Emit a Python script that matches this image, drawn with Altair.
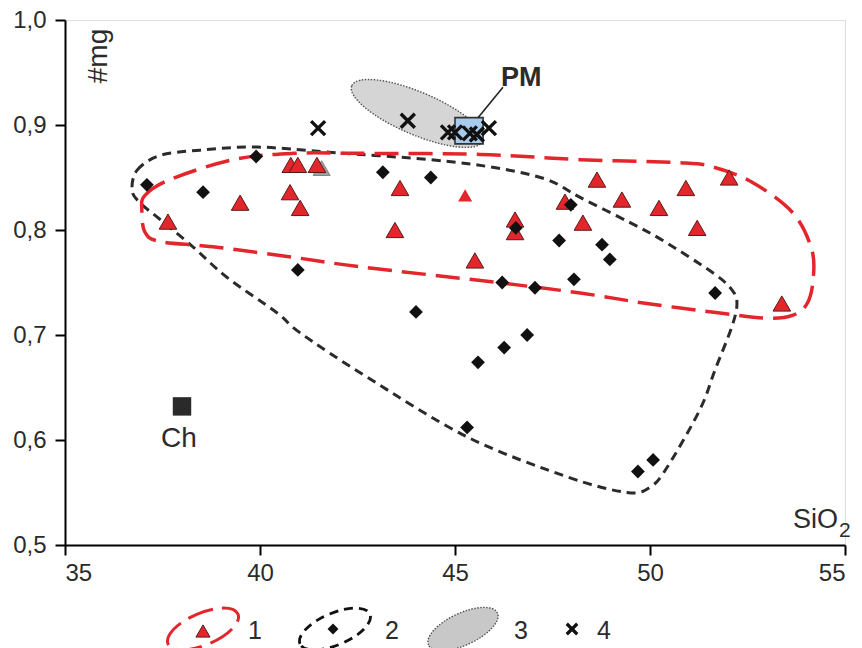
import altair as alt
import pandas as pd

# ---- data -------------------------------------------------------------
# Group 1: triangles (SiO2, #mg)
g1_sio2 = [37.64, 39.49, 40.79, 40.97, 41.46, 40.77, 41.03, 43.59, 43.46, 46.54,
           46.54, 45.51, 48.64, 47.82, 48.28, 49.28, 50.23, 50.92, 52.03, 51.21, 53.38]
g1_mg = [0.808, 0.826, 0.862, 0.862, 0.862, 0.836, 0.821, 0.840, 0.800, 0.810,
         0.798, 0.771, 0.848, 0.827, 0.807, 0.829, 0.821, 0.840, 0.850, 0.802, 0.730]
# group 1 samples plotted without outline / in grey
g1_plain_sio2 = [45.26]
g1_plain_mg = [0.833]
g1_grey_sio2 = [41.58]
g1_grey_mg = [0.859]

# Group 2: diamonds
g2_sio2 = [37.10, 38.54, 39.90, 40.97, 43.15, 44.38, 46.56, 47.97, 47.67, 48.77, 48.97,
           48.05, 46.21, 47.05, 44.00, 46.85, 46.26, 45.59, 45.31, 49.69, 50.08, 51.67]
g2_mg = [0.843, 0.836, 0.870, 0.762, 0.855, 0.850, 0.802, 0.824, 0.790, 0.786, 0.772,
         0.753, 0.750, 0.745, 0.722, 0.700, 0.688, 0.674, 0.612, 0.570, 0.581, 0.740]

# Group 4: crosses
g4_sio2 = [41.49, 43.79, 44.82, 45.00, 45.38, 45.56, 45.87]
g4_mg = [0.897, 0.904, 0.893, 0.893, 0.892, 0.891, 0.897]

# Field of group 1 (closed outline)
f1_sio2 = [36.97, 37.05, 37.69, 39.31, 40.85, 42.56, 45.64, 48.21, 50.77, 51.62, 52.64,
           53.67, 54.15, 54.18, 54.03, 53.67, 53.00, 51.79, 49.92, 48.21, 46.08, 42.56,
           40.85, 38.79, 37.44, 37.05]
f1_mg = [0.819, 0.833, 0.848, 0.867, 0.873, 0.873, 0.872, 0.867, 0.864, 0.860, 0.845,
         0.816, 0.781, 0.752, 0.730, 0.719, 0.716, 0.721, 0.730, 0.740, 0.750, 0.765,
         0.774, 0.784, 0.789, 0.798]

# Field of group 2 (closed outline)
f2_sio2 = [36.72, 36.85, 37.44, 38.46, 39.92, 41.79, 44.36, 46.08, 47.36, 48.21, 49.49,
           50.33, 51.62, 52.10, 52.23, 52.10, 51.67, 51.28, 50.44, 50.00, 49.41, 47.87,
           45.31, 42.74, 41.03, 40.44, 39.15, 38.28, 37.44, 36.92]
f2_mg = [0.838, 0.857, 0.871, 0.876, 0.879, 0.874, 0.867, 0.859, 0.848, 0.831, 0.807,
         0.790, 0.759, 0.743, 0.730, 0.708, 0.667, 0.629, 0.574, 0.555, 0.550, 0.565,
         0.603, 0.660, 0.702, 0.721, 0.755, 0.784, 0.810, 0.826]

# Field 3 (grey ellipse): centre
f3_sio2 = [44.03]
f3_mg = [0.911]

# Primitive mantle box and chondrite
pm_sio2 = [45.0, 45.72]
pm_mg = [0.882, 0.907]
pm_leader_sio2 = [45.59, 46.23]
pm_leader_mg = [0.907, 0.936]
ch_sio2 = [38.0]
ch_mg = [0.632]

x_ticks = [35, 40, 45, 50, 55]
y_ticks = [0.5, 0.6, 0.7, 0.8, 0.9, 1.0]
legend_labels = ["1", "2", "3", "4"]

# ---- styling ------------------------------------------------------------
FONT = "Liberation Sans"
TXT = "#2b2b2b"
RED = "#e3262c"
DARK = "#2b2b2b"
ELLIPSE = "M-1,0A1,0.3,0,1,1,1,0A1,0.3,0,1,1,-1,0Z"
ELLIPSE_L = "M-1,0A1,0.42,0,1,1,1,0A1,0.42,0,1,1,-1,0Z"
XMARK = "M-1,-1L1,1M-1,1L1,-1"

W, H = 780, 525

xs = alt.Scale(domain=[35, 55], nice=False, zero=False)
ys = alt.Scale(domain=[0.5, 1.0], nice=False, zero=False)

x_axis = alt.Axis(values=x_ticks, title=None, grid=False, tickSize=10, tickWidth=2,
                  domainWidth=2, domainColor="black", tickColor="black",
                  labelFontSize=24, labelColor=TXT, labelPadding=6, labelFont=FONT)
y_axis = alt.Axis(values=y_ticks, title=None, grid=False, tickSize=10, tickWidth=2,
                  domainWidth=2, domainColor="black", tickColor="black",
                  labelFontSize=24, labelColor=TXT, labelPadding=9, labelFont=FONT,
                  labelExpr="replace(format(datum.value, '.1f'), '.', ',')")


def X(field="x"):
    return alt.X(f"{field}:Q", scale=xs, axis=x_axis)


def Y(field="y"):
    return alt.Y(f"{field}:Q", scale=ys, axis=y_axis)


def pts(xv, yv):
    return pd.DataFrame({"x": xv, "y": yv})


def outline(xv, yv):
    return pd.DataFrame({"x": xv, "y": yv, "i": list(range(len(xv)))})


one = pd.DataFrame({"k": [0]})

# ---- plot layers -------------------------------------------------------
field3 = alt.Chart(pts(f3_sio2, f3_mg)).mark_point(
    shape=ELLIPSE, filled=True, fill="#d5d5d5", stroke="#555555", strokeWidth=1.4,
    strokeDash=[1.5, 1.5], size=142 ** 2, angle=23, opacity=1
).encode(x=X(), y=Y())

field2 = alt.Chart(outline(f2_sio2, f2_mg)).mark_line(
    interpolate="cardinal-closed", color=DARK, strokeWidth=3, strokeDash=[9, 6]
).encode(x=X(), y=Y(), order="i:Q")

field1 = alt.Chart(outline(f1_sio2, f1_mg)).mark_line(
    interpolate="cardinal-closed", color=RED, strokeWidth=3.5, strokeDash=[24, 10]
).encode(x=X(), y=Y(), order="i:Q")

tri_grey = alt.Chart(pts(g1_grey_sio2, g1_grey_mg)).mark_point(
    shape="triangle-up", filled=True, fill="#a0a0a0", stroke="#808080", strokeWidth=1,
    size=290, opacity=1
).encode(x=X(), y=Y())

tri = alt.Chart(pts(g1_sio2, g1_mg)).mark_point(
    shape="triangle-up", filled=True, fill=RED, stroke="#5a1a1a", strokeWidth=1,
    size=310, opacity=1
).encode(x=X(), y=Y())

tri_plain = alt.Chart(pts(g1_plain_sio2, g1_plain_mg)).mark_point(
    shape="triangle-up", filled=True, fill=RED, strokeWidth=0, size=200, opacity=1
).encode(x=X(), y=Y())

dia = alt.Chart(pts(g2_sio2, g2_mg)).mark_point(
    shape="diamond", filled=True, fill="#111111", size=190, opacity=1
).encode(x=X(), y=Y())

pm_df = pd.DataFrame({"x": [pm_sio2[0]], "x2": [pm_sio2[1]],
                      "y": [pm_mg[0]], "y2": [pm_mg[1]]})
pm_box = alt.Chart(pm_df).mark_rect(
    fill="#a9cbec", stroke="#333333", strokeWidth=1.6
).encode(x=X(), x2="x2:Q", y=Y(), y2="y2:Q")

leader_df = pd.DataFrame({"x": [pm_leader_sio2[0]], "x2": [pm_leader_sio2[1]],
                          "y": [pm_leader_mg[0]], "y2": [pm_leader_mg[1]]})
pm_leader = alt.Chart(leader_df).mark_rule(color="#222222", strokeWidth=1.6).encode(
    x=X(), x2="x2:Q", y=Y(), y2="y2:Q")

crosses = alt.Chart(pts(g4_sio2, g4_mg)).mark_point(
    shape=XMARK, filled=False, stroke="#111111", strokeWidth=3.4, size=196, opacity=1
).encode(x=X(), y=Y())

ch_pt = alt.Chart(pts(ch_sio2, ch_mg)).mark_point(
    shape="square", filled=True, fill="#2a2a2a", size=340, opacity=1
).encode(x=X(), y=Y())

ch_df = pts(ch_sio2, ch_mg).assign(t=["Ch"])
ch_txt = alt.Chart(ch_df).mark_text(
    font=FONT, fontSize=28, color=TXT, dy=33, dx=-3, baseline="middle"
).encode(x=X(), y=Y(), text="t:N")

pm_df_t = pd.DataFrame({"x": [pm_leader_sio2[1]], "y": [pm_leader_mg[1]], "t": ["PM"]})
pm_txt = alt.Chart(pm_df_t).mark_text(
    font=FONT, fontSize=27, fontWeight="bold", color=TXT, align="left",
    baseline="alphabetic", dx=-2, dy=-1
).encode(x=X(), y=Y(), text="t:N")

# axis titles
mg_title = alt.Chart(one).mark_text(
    text="#mg", font=FONT, fontSize=28, color=TXT, angle=270,
    align="center", baseline="middle"
).encode(x=alt.value(34), y=alt.value(36))

sio_title = alt.Chart(one).mark_text(
    text="SiO", font=FONT, fontSize=27, color=TXT, align="right", baseline="alphabetic"
).encode(x=alt.value(773), y=alt.value(508))

sio_sub = alt.Chart(one).mark_text(
    text="2", font=FONT, fontSize=21, color=TXT, align="left", baseline="alphabetic"
).encode(x=alt.value(774), y=alt.value(517))

# ---- legend row below the axis ----------------------------------------
leg_y = 609
lg_red = alt.Chart(one).mark_point(
    shape=ELLIPSE_L, filled=False, stroke=RED, strokeWidth=3, strokeDash=[26, 9],
    size=76 ** 2, angle=337, opacity=1
).encode(x=alt.value(138), y=alt.value(leg_y))
lg_tri = alt.Chart(one).mark_point(
    shape="triangle-up", filled=True, fill=RED, stroke="#5a1a1a", strokeWidth=1,
    size=200, opacity=1
).encode(x=alt.value(138), y=alt.value(leg_y + 2))
lg_blk = alt.Chart(one).mark_point(
    shape=ELLIPSE_L, filled=False, stroke="#111111", strokeWidth=2.8, strokeDash=[9, 6],
    size=76 ** 2, angle=337, opacity=1
).encode(x=alt.value(270), y=alt.value(leg_y))
lg_dia = alt.Chart(one).mark_point(
    shape="diamond", filled=True, fill="#111111", size=120, opacity=1
).encode(x=alt.value(268), y=alt.value(leg_y))
lg_grey = alt.Chart(one).mark_point(
    shape=ELLIPSE_L, filled=True, fill="#c8c8c8", stroke="#555555", strokeWidth=1.4,
    strokeDash=[1.5, 1.5], size=76 ** 2, angle=335, opacity=1
).encode(x=alt.value(398), y=alt.value(leg_y))
lg_x = alt.Chart(one).mark_point(
    shape=XMARK, filled=False, stroke="#111111", strokeWidth=3.2, size=110, opacity=1
).encode(x=alt.value(507), y=alt.value(leg_y))

lg_text_pos = [190, 327, 456, 539]
lg_texts = [
    alt.Chart(one).mark_text(
        text=lab, font=FONT, fontSize=25, color=TXT, align="center", baseline="middle"
    ).encode(x=alt.value(px), y=alt.value(leg_y + 2))
    for lab, px in zip(legend_labels, lg_text_pos)
]

chart = alt.layer(
    field3, field2, field1, tri_grey, tri, tri_plain, dia, pm_box, pm_leader, crosses,
    ch_pt, ch_txt, pm_txt, mg_title, sio_title, sio_sub,
    lg_red, lg_tri, lg_blk, lg_dia, lg_grey, lg_x, *lg_texts
).properties(
    width=W, height=H,
    autosize=alt.AutoSizeParams(type="none"),
    padding={"left": 65, "top": 20, "right": 17, "bottom": 103},
    background="white"
).configure_view(stroke=None).configure(font=FONT)

chart.save("out.html", embed_options={"renderer": "svg", "actions": False})
